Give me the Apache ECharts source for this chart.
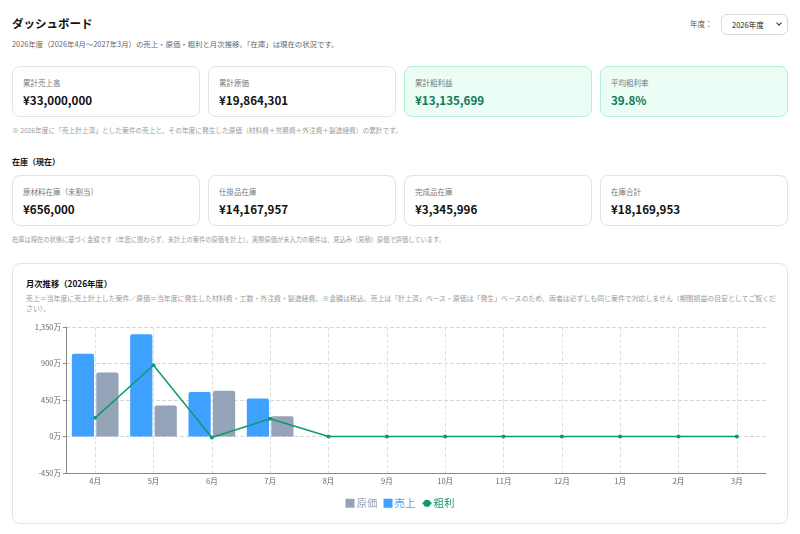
<!DOCTYPE html>
<html lang="ja">
<head>
<meta charset="utf-8">
<title>ダッシュボード</title>
<script src="https://cdn.jsdelivr.net/npm/echarts@6/dist/echarts.min.js"></script>
<style>
  body { margin: 0; background: #fff; color: #111; font-family: "Noto Sans CJK JP", "Noto Sans", sans-serif; }
  .page { position: relative; width: 800px; height: 534px; overflow: hidden; }
  h1 { position: absolute; left: 12px; top: 15px; margin: 0; font-size: 11.5px; line-height: 16px; font-weight: 700; }
  .lead { position: absolute; left: 12px; top: 39px; font-size: 7.4px; line-height: 10px; color: #666; white-space: nowrap; }
  .year { position: absolute; left: 690px; top: 19px; font-size: 7.5px; line-height: 10px; color: #555; }
  .select { position: absolute; left: 721px; top: 14px; width: 67px; height: 21px; box-sizing: border-box;
    border: 1px solid #d9d9d9; border-radius: 6px; font-size: 7.5px; line-height: 19px; padding-left: 10px; color: #222; }
  .select:after { content: ""; position: absolute; right: 6px; top: 6px; width: 3px; height: 3px;
    border-right: 1.5px solid #333; border-bottom: 1.5px solid #333; transform: rotate(45deg); }
  .cards { position: absolute; left: 12px; width: 776px; display: flex; gap: 8px; }
  .card { flex: 1; height: 51px; box-sizing: border-box; border: 1px solid #e3e3e3; border-radius: 8px; padding: 10px 10px 0; }
  .card .label { font-size: 7.5px; line-height: 12px; color: #777; }
  .card .value { margin-top: 3px; font-size: 11.6px; line-height: 16px; font-weight: 700; color: #111; }
  .card.good { background: #ecfdf5; border-color: #b4f0d2; }
  .card.good .value { color: #0b7a58; }
  .note { position: absolute; left: 12px; font-size: 6.7px; line-height: 10px; color: #999; white-space: nowrap; }
  .section { position: absolute; left: 12px; top: 156px; font-size: 8px; line-height: 12px; font-weight: 700; }
  .box { position: absolute; left: 12px; top: 263px; width: 776px; height: 261px; box-sizing: border-box;
    border: 1px solid #e5e5e5; border-radius: 8px; }
  .box h2 { position: absolute; left: 13px; top: 13px; margin: 0; font-size: 8.3px; line-height: 12px; font-weight: 700; }
  .box .sub { position: absolute; left: 13px; top: 29px; width: 750px; font-size: 6.9px; line-height: 10px; color: #999; }
  #chart { position: absolute; left: 12px; top: 318px; width: 776px; height: 200px; }
</style>
</head>
<body>
<div class="page">
  <h1>ダッシュボード</h1>
  <div class="lead">2026年度（2026年4月～2027年3月）の売上・原価・粗利と月次推移。「在庫」は現在の状況です。</div>
  <div class="year">年度：</div>
  <div class="select">2026年度</div>

  <div class="cards" style="top:66px">
    <div class="card"><div class="label">累計売上高</div><div class="value">¥33,000,000</div></div>
    <div class="card"><div class="label">累計原価</div><div class="value">¥19,864,301</div></div>
    <div class="card good"><div class="label">累計粗利益</div><div class="value">¥13,135,699</div></div>
    <div class="card good"><div class="label">平均粗利率</div><div class="value">39.8%</div></div>
  </div>
  <div class="note" style="top:125px">※ 2026年度に「売上計上済」とした案件の売上と、その年度に発生した原価（材料費＋労務費＋外注費＋製造経費）の累計です。</div>

  <div class="section">在庫（現在）</div>
  <div class="cards" style="top:175px">
    <div class="card"><div class="label">原材料在庫（未割当）</div><div class="value">¥656,000</div></div>
    <div class="card"><div class="label">仕掛品在庫</div><div class="value">¥14,167,957</div></div>
    <div class="card"><div class="label">完成品在庫</div><div class="value">¥3,345,996</div></div>
    <div class="card"><div class="label">在庫合計</div><div class="value">¥18,169,953</div></div>
  </div>
  <div class="note" style="top:235px;font-size:6.25px">在庫は現在の状態に基づく金額です（年度に関わらず、未計上の案件の原価を計上）。実際原価が未入力の案件は、見込み（見積）原価で評価しています。</div>

  <div class="box">
    <h2>月次推移（2026年度）</h2>
    <div class="sub">売上＝当年度に売上計上した案件／原価＝当年度に発生した材料費・工数・外注費・製造経費。※金額は税込。売上は「計上済」ベース・原価は「発生」ベースのため、両者は必ずしも同じ案件で対応しません（期間損益の目安としてご覧ください）。</div>
  </div>
  <div id="chart"></div>
</div>
<script>
// 月次データ（円）
var months = ['4月', '5月', '6月', '7月', '8月', '9月', '10月', '11月', '12月', '1月', '2月', '3月']
var sales = [10200000, 12600000, 5500000, 4700000, 0, 0, 0, 0, 0, 0, 0, 0]
var costs = [7900000, 3820000, 5630000, 2510000, 0, 0, 0, 0, 0, 0, 0, 0]
var profits = [2300000, 8780000, -130000, 2190000, 0, 0, 0, 0, 0, 0, 0, 0]

var COLOR_SALES = '#3ea1ff'
var COLOR_COST = '#95a3b8'
var COLOR_PROFIT = '#0f9a6d'

var chart = echarts.init(document.getElementById('chart'))
var option = {
  animation: false,
  textStyle: { fontFamily: '"Noto Sans CJK JP", sans-serif' },
  grid: { left: 54, right: 22, top: 9, bottom: 45, containLabel: false, outerBoundsMode: 'none', show: true, borderWidth: 0 },
  legend: {
    top: 175,
    left: 'center',
    itemWidth: 9,
    itemHeight: 9,
    itemGap: 6,
    textStyle: { fontSize: 10.5, padding: [0, 0, 0, -3] },
    data: [
      { name: '原価', icon: 'rect', textStyle: { color: COLOR_COST } },
      { name: '売上', icon: 'rect', textStyle: { color: COLOR_SALES } },
      { name: '粗利', textStyle: { color: COLOR_PROFIT } }
    ]
  },
  xAxis: {
    type: 'category',
    data: months,
    axisLine: { onZero: false, lineStyle: { color: '#888' } },
    axisTick: { alignWithLabel: true, length: 3, lineStyle: { color: '#888' } },
    axisLabel: { fontSize: 7.5, color: '#666', margin: 4 },
    splitLine: { show: true, alignWithLabel: true, lineStyle: { type: 'dashed', color: '#e2e2e2' } }
  },
  yAxis: {
    type: 'value',
    min: -4500000,
    max: 13500000,
    interval: 4500000,
    axisLine: { show: true, lineStyle: { color: '#888' } },
    axisTick: { show: true, length: 3, lineStyle: { color: '#888' } },
    axisLabel: {
      fontSize: 7.5,
      color: '#666',
      margin: 5,
      formatter: function(v) {
        return (v / 10000).toLocaleString('ja-JP') + '万'
      }
    },
    splitLine: { lineStyle: { type: 'dashed', color: '#d8d8d8' } }
  },
  series: [
    {
      name: '売上',
      type: 'bar',
      data: sales,
      barGap: '10%',
      barCategoryGap: '20%',
      itemStyle: { color: COLOR_SALES, borderRadius: [2, 2, 0, 0] }
    },
    {
      name: '原価',
      type: 'bar',
      data: costs,
      itemStyle: { color: COLOR_COST, borderRadius: [2, 2, 0, 0] }
    },
    {
      name: '粗利',
      type: 'line',
      data: profits,
      symbol: 'circle',
      symbolSize: 4,
      lineStyle: { width: 1.5, color: COLOR_PROFIT },
      itemStyle: { color: COLOR_PROFIT }
    }
  ]
}
chart.setOption(option)
</script>
</body>
</html>
